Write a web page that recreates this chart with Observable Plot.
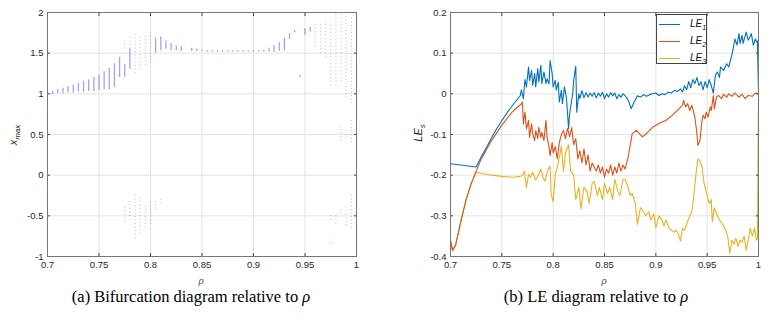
<!DOCTYPE html>
<html>
<head>
<meta charset="utf-8">
<script src="https://cdn.jsdelivr.net/npm/d3@7"></script>
<script src="https://cdn.jsdelivr.net/npm/@observablehq/plot@0.6"></script>
<style>
  body { margin: 0; background: #fff; }
  #page { position: relative; width: 780px; height: 320px; overflow: hidden; background: #fff; font-family: "Liberation Sans", Arial, sans-serif; }
  .abs { position: absolute; }
  .ylab { position: absolute; transform: translate(-50%, -50%) rotate(-90deg); white-space: nowrap; font-style: italic; font-size: 11px; color: #262626; }
  .ylab sub { font-size: 8px; vertical-align: -3px; }
  .xlab { position: absolute; transform: translate(-50%, -50%); font-style: italic; font-size: 9px; color: #444; }
  .cap { position: absolute; transform: translate(-50%, -50%); white-space: nowrap; font-family: "Liberation Serif", "Times New Roman", serif; font-size: 16.5px; color: #000; }
  .cap i { font-style: italic; }
  #legend { position: absolute; left: 656px; top: 14px; width: 51px; height: 50px; border: 1px solid #444; background: #fff; box-sizing: border-box; }
  #legend .row { position: absolute; left: 2px; height: 12px; width: 47px; }
  #legend .ln { position: absolute; left: 0; top: 6px; width: 21px; height: 0; border-top: 1.2px solid; }
  #legend .tx { position: absolute; left: 31px; top: 0; font-style: italic; font-size: 10px; line-height: 12px; color: #111; white-space: nowrap; }
  #legend .tx sub { font-size: 7px; line-height: 0; vertical-align: -2.5px; }
</style>
</head>
<body>
<div id="page">
  <div id="left" class="abs" style="left:0;top:0"></div>
  <div id="right" class="abs" style="left:390px;top:0"></div>
  <div class="ylab" style="left:14px;top:135px">x<sub>max</sub></div>
  <div class="ylab" style="left:419px;top:133px">LE<sub>s</sub></div>
  <div class="xlab" style="left:201px;top:281px">ρ</div>
  <div class="xlab" style="left:604px;top:281px">ρ</div>
  <div class="cap" style="left:191px;top:297px">(a) Bifurcation diagram relative to <i>ρ</i></div>
  <div class="cap" style="left:596px;top:297px">(b) LE diagram relative to <i>ρ</i></div>
  <div id="legend"></div>
</div>
<script>
// ---------- Tick labels ----------
const rhoTicks = [0.7, 0.75, 0.8, 0.85, 0.9, 0.95, 1];
const xmaxTicks = [-1, -0.5, 0, 0.5, 1, 1.5, 2];
const leTicks = [-0.4, -0.3, -0.2, -0.1, 0, 0.1, 0.2];

// ---------- Bifurcation diagram: dense columns ----------
const bandRho = [0.700,0.705,0.710,0.715,0.720,0.725,0.730,0.735,0.740,0.745,0.750,0.755,0.760,0.765,0.770,0.775,0.780,0.805,0.810,0.815,0.820,0.825,0.830,0.840,0.845,0.850,0.855,0.860,0.865,0.870,0.875,0.880,0.885,0.890,0.895,0.900,0.905,0.910,0.915,0.920,0.925,0.930,0.935,0.940,0.945,0.950,0.955];
const bandLo  = [0.99,0.99,1.00,1.00,1.01,1.01,1.02,1.02,1.03,1.03,1.04,1.05,1.05,1.08,1.20,1.20,1.30,1.50,1.53,1.55,1.53,1.53,1.52,1.52,1.52,1.52,1.51,1.51,1.51,1.51,1.51,1.51,1.51,1.51,1.51,1.51,1.51,1.51,1.51,1.51,1.52,1.53,1.67,1.75,1.20,1.72,1.76];
const bandHi  = [1.00,1.03,1.05,1.07,1.09,1.11,1.13,1.15,1.17,1.20,1.23,1.27,1.31,1.37,1.45,1.36,1.55,1.68,1.70,1.65,1.62,1.59,1.58,1.56,1.55,1.54,1.53,1.53,1.53,1.53,1.53,1.53,1.53,1.53,1.53,1.53,1.53,1.54,1.56,1.59,1.63,1.68,1.74,1.78,1.23,1.80,1.82];

// ---------- Bifurcation diagram: sparse (chaotic) columns ----------
const dotRho = [0.775,0.775,0.780,0.780,0.785,0.785,0.790,0.790,0.795,0.795,0.800,0.800,0.805,0.810,0.960,0.965,0.970,0.975,0.975,0.975,0.980,0.980,0.985,0.985,0.985,0.990,0.990,0.990,0.995,0.995,0.995,1.000];
const dotLo  = [1.55,-0.58,1.55,-0.55,1.25,-0.78,1.30,-0.72,1.35,-0.65,1.40,-0.60,-0.42,-0.35,1.58,1.50,1.45,1.10,-0.55,-0.85,1.10,-0.60,1.15,0.42,-0.48,0.95,0.45,-0.62,0.88,0.40,-0.65,1.55];
const dotHi  = [1.68,-0.38,1.72,-0.32,1.75,-0.25,1.72,-0.25,1.72,-0.35,1.76,-0.32,-0.32,-0.28,1.85,1.88,1.90,1.88,-0.48,-0.80,2.00,-0.50,2.00,0.62,-0.42,1.95,0.55,-0.38,1.95,0.68,-0.25,1.85];

// ---------- Lyapunov exponents ----------
const le1Rho = [0.700,0.725,0.730,0.735,0.740,0.745,0.750,0.755,0.760,0.765,0.768,0.769,0.771,0.7725,0.774,0.776,0.777,0.779,0.780,0.782,0.783,0.785,0.786,0.788,0.789,0.791,0.793,0.794,0.796,0.797,0.799,0.800,0.802,0.803,0.805,0.806,0.808,0.809,0.811,0.813,0.815,0.816,0.817,0.819,0.820,0.822,0.823,0.825,0.826,0.828,0.830,0.832,0.834,0.836,0.838,0.840,0.842,0.844,0.846,0.848,0.850,0.852,0.854,0.856,0.858,0.860,0.862,0.864,0.866,0.868,0.870,0.873,0.876,0.879,0.882,0.885,0.888,0.891,0.894,0.897,0.900,0.903,0.906,0.909,0.912,0.915,0.918,0.921,0.924,0.926,0.928,0.930,0.932,0.934,0.936,0.938,0.940,0.942,0.944,0.946,0.948,0.950,0.952,0.954,0.956,0.958,0.960,0.962,0.963,0.966,0.969,0.971,0.974,0.976,0.977,0.979,0.981,0.982,0.984,0.985,0.988,0.990,0.993,0.995,0.997,0.998,0.999,1.000];
const le1    = [-0.172,-0.180,-0.155,-0.132,-0.108,-0.086,-0.066,-0.047,-0.030,-0.014,-0.004,0.010,-0.012,0.035,0.017,0.066,0.033,0.057,0.021,0.050,0.017,0.062,0.029,0.070,0.025,0.054,0.025,0.037,0.025,0.082,0.050,0.017,0.033,0.009,0.029,-0.020,0.009,-0.024,0.017,-0.012,-0.085,-0.049,-0.033,0.000,0.033,0.068,-0.045,0.000,-0.012,0.008,-0.010,0.003,-0.008,0.002,-0.006,0.003,-0.010,0.002,-0.006,0.004,-0.012,0.000,-0.008,0.003,-0.005,0.002,-0.012,-0.002,-0.008,0.000,-0.004,-0.015,-0.036,-0.020,-0.005,-0.008,-0.002,-0.006,-0.002,0.000,0.002,-0.004,0.000,-0.002,0.004,0.002,0.008,0.006,0.012,0.005,0.020,0.010,0.030,0.015,0.035,0.025,0.040,0.020,0.030,0.010,0.030,0.015,0.035,0.020,0.002,0.045,0.054,0.040,0.066,0.058,0.074,0.066,0.095,0.120,0.135,0.120,0.148,0.124,0.144,0.124,0.152,0.132,0.148,0.120,0.135,0.128,0.130,0.000];

const le2Rho = [0.700,0.702,0.705,0.710,0.715,0.720,0.725,0.730,0.740,0.750,0.760,0.765,0.769,0.770,0.771,0.7725,0.774,0.776,0.777,0.779,0.780,0.782,0.783,0.785,0.786,0.788,0.789,0.791,0.793,0.794,0.796,0.797,0.799,0.800,0.802,0.804,0.806,0.808,0.810,0.812,0.814,0.816,0.818,0.820,0.822,0.824,0.826,0.828,0.830,0.832,0.834,0.836,0.838,0.840,0.842,0.844,0.846,0.848,0.850,0.852,0.854,0.856,0.858,0.860,0.862,0.864,0.866,0.868,0.870,0.873,0.877,0.881,0.884,0.887,0.892,0.897,0.903,0.910,0.916,0.923,0.926,0.927,0.929,0.931,0.933,0.935,0.938,0.940,0.941,0.943,0.945,0.946,0.948,0.949,0.951,0.953,0.954,0.956,0.957,0.959,0.961,0.964,0.966,0.969,0.971,0.974,0.977,0.981,0.984,0.987,0.990,0.994,0.997,1.000];
const le2    = [-0.360,-0.385,-0.372,-0.315,-0.262,-0.222,-0.190,-0.160,-0.115,-0.077,-0.045,-0.033,-0.025,-0.020,-0.074,-0.045,-0.086,-0.065,-0.107,-0.074,-0.098,-0.115,-0.090,-0.110,-0.082,-0.107,-0.095,-0.115,-0.065,-0.105,-0.131,-0.152,-0.120,-0.145,-0.130,-0.160,-0.120,-0.100,-0.090,-0.110,-0.085,-0.105,-0.083,-0.125,-0.110,-0.160,-0.140,-0.170,-0.135,-0.175,-0.150,-0.190,-0.170,-0.180,-0.190,-0.175,-0.195,-0.180,-0.205,-0.185,-0.195,-0.175,-0.200,-0.180,-0.195,-0.170,-0.190,-0.175,-0.185,-0.156,-0.098,-0.090,-0.098,-0.106,-0.095,-0.082,-0.073,-0.065,-0.053,-0.036,-0.028,-0.016,-0.032,-0.024,-0.041,-0.028,-0.057,-0.098,-0.127,-0.115,-0.065,-0.053,-0.061,-0.045,-0.057,-0.032,-0.041,-0.004,-0.037,-0.008,-0.004,-0.012,-0.001,-0.008,0.000,-0.006,0.002,-0.008,-0.001,-0.012,-0.004,-0.006,0.002,0.000];

const le3Rho = [0.700,0.702,0.705,0.710,0.715,0.720,0.725,0.740,0.750,0.760,0.768,0.770,0.772,0.774,0.776,0.778,0.780,0.783,0.786,0.788,0.790,0.792,0.795,0.797,0.798,0.800,0.802,0.805,0.808,0.810,0.812,0.815,0.817,0.820,0.822,0.825,0.827,0.830,0.833,0.835,0.838,0.840,0.843,0.845,0.848,0.850,0.853,0.855,0.858,0.860,0.863,0.865,0.868,0.870,0.873,0.875,0.877,0.880,0.882,0.885,0.888,0.890,0.893,0.895,0.898,0.900,0.903,0.906,0.908,0.910,0.913,0.915,0.918,0.920,0.922,0.924,0.926,0.928,0.930,0.933,0.935,0.937,0.939,0.941,0.943,0.945,0.947,0.950,0.952,0.954,0.955,0.957,0.960,0.962,0.965,0.967,0.970,0.972,0.974,0.976,0.978,0.980,0.982,0.984,0.986,0.988,0.990,0.992,0.994,0.996,0.998,0.999,1.000];
const le3    = [-0.360,-0.385,-0.372,-0.315,-0.262,-0.222,-0.193,-0.200,-0.203,-0.205,-0.203,-0.200,-0.190,-0.231,-0.198,-0.205,-0.193,-0.212,-0.198,-0.185,-0.205,-0.215,-0.185,-0.178,-0.246,-0.265,-0.200,-0.170,-0.129,-0.190,-0.145,-0.125,-0.190,-0.200,-0.260,-0.230,-0.283,-0.230,-0.240,-0.270,-0.220,-0.215,-0.250,-0.230,-0.260,-0.220,-0.245,-0.230,-0.260,-0.210,-0.240,-0.250,-0.210,-0.210,-0.230,-0.250,-0.245,-0.270,-0.321,-0.280,-0.290,-0.300,-0.290,-0.310,-0.295,-0.330,-0.300,-0.310,-0.325,-0.310,-0.330,-0.335,-0.340,-0.335,-0.345,-0.362,-0.330,-0.335,-0.320,-0.300,-0.290,-0.250,-0.200,-0.160,-0.165,-0.180,-0.220,-0.250,-0.270,-0.260,-0.315,-0.280,-0.300,-0.310,-0.320,-0.330,-0.350,-0.392,-0.360,-0.370,-0.355,-0.375,-0.360,-0.365,-0.350,-0.385,-0.360,-0.330,-0.350,-0.330,-0.360,-0.355,0.000];

const seriesNames = ["LE1", "LE2", "LE3"];
const seriesColors = ["#0072BD", "#D95319", "#EDB120"];

const fmt = d => String(d);
const noText = () => "";
const gridColor = "#e3e3e3";
const style = {fontFamily: "'Liberation Sans', Arial, sans-serif", fontSize: "9.5px", color: "#262626", background: "transparent"};

function grids(xTicks, yTicks) {
  return [
    Plot.gridX(xTicks, {stroke: gridColor, strokeOpacity: 1}),
    Plot.gridY(yTicks, {stroke: gridColor, strokeOpacity: 1})
  ];
}
function axes(xTicks, yTicks) {
  return [
    Plot.axisX(xTicks, {anchor: "bottom", tickSize: -3, tickPadding: 8, tickFormat: fmt, label: null, stroke: "#444"}),
    Plot.axisX(xTicks, {anchor: "top", tickSize: -3, tickFormat: noText, label: null, stroke: "#444"}),
    Plot.axisY(yTicks, {anchor: "left", tickSize: -3, tickPadding: 7, tickFormat: fmt, label: null, stroke: "#444"}),
    Plot.axisY(yTicks, {anchor: "right", tickSize: -3, tickFormat: noText, label: null, stroke: "#444"}),
    Plot.frame({stroke: "#777"})
  ];
}

const left = Plot.plot({
  width: 390, height: 290,
  marginLeft: 47, marginRight: 34, marginTop: 12, marginBottom: 34,
  style,
  x: {domain: [0.7, 1]},
  y: {domain: [-1, 2]},
  marks: [
    ...grids(rhoTicks, xmaxTicks),
    Plot.ruleX(dotRho, {x: dotRho, y1: dotLo, y2: dotHi, stroke: "#6060ff", strokeOpacity: 0.4, strokeWidth: 1.2, strokeDasharray: "1,2.5"}),
    Plot.ruleX(bandRho, {x: bandRho, y1: bandLo, y2: bandHi, stroke: "#5555ff", strokeOpacity: 0.55, strokeWidth: 1.3}),
    ...axes(rhoTicks, xmaxTicks)
  ]
});
document.getElementById("left").appendChild(left);

const right = Plot.plot({
  width: 390, height: 290,
  marginLeft: 60, marginRight: 22, marginTop: 12, marginBottom: 34,
  style,
  x: {domain: [0.7, 1]},
  y: {domain: [-0.4, 0.2]},
  marks: [
    ...grids(rhoTicks, leTicks),
    Plot.line(le3Rho, {x: le3Rho, y: le3, stroke: seriesColors[2], strokeWidth: 1.1}),
    Plot.line(le2Rho, {x: le2Rho, y: le2, stroke: seriesColors[1], strokeWidth: 1.1}),
    Plot.line(le1Rho, {x: le1Rho, y: le1, stroke: seriesColors[0], strokeWidth: 1.1}),
    ...axes(rhoTicks, leTicks)
  ]
});
document.getElementById("right").appendChild(right);

// legend
const legend = document.getElementById("legend");
seriesNames.forEach((name, i) => {
  const row = document.createElement("div");
  row.className = "row";
  row.style.top = (3 + i * 17) + "px";
  row.innerHTML = `<div class="ln" style="border-top-color:${seriesColors[i]}"></div><div class="tx">LE<sub>${name.slice(2)}</sub></div>`;
  legend.appendChild(row);
});
</script>
</body>
</html>
